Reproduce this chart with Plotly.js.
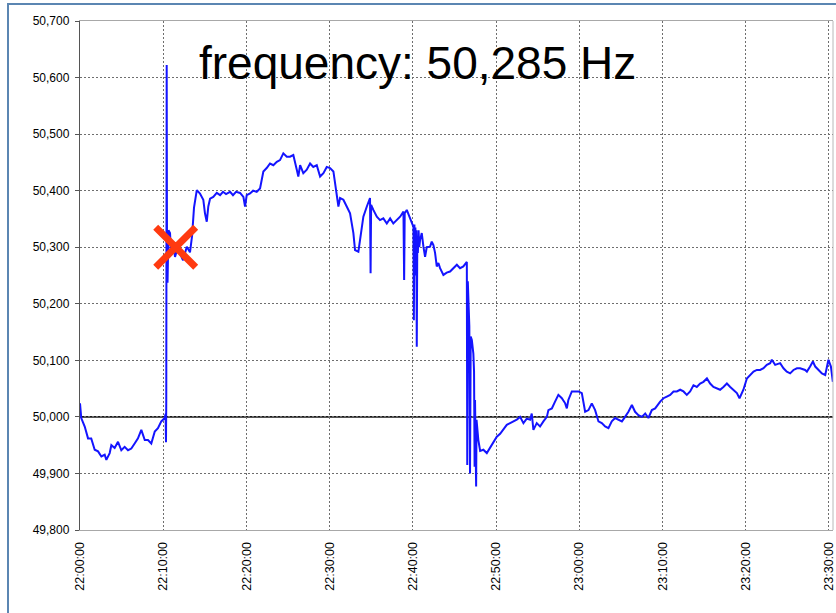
<!DOCTYPE html>
<html>
<head>
<meta charset="utf-8">
<script src="https://cdn.plot.ly/plotly-3.0.1.min.js"></script>
<style>
  html, body { margin: 0; padding: 0; background: #ffffff; }
  #wrap { position: relative; width: 836px; height: 613px; overflow: hidden; }
  #chart { position: absolute; left: 0; top: 0; width: 836px; height: 613px; }
  #frame { position: absolute; left: 7px; top: 3px; width: 829px; height: 608px;
           border-left: 2px solid #5b86b2; border-top: 2px solid #5b86b2;
           border-bottom: 1px solid #dde2e8; pointer-events: none; }
</style>
</head>
<body>
<div id="wrap">
  <div id="chart"></div>
  <div id="frame"></div>
</div>
<script>
// ---- data ----
const times = [
 "22:00:00","22:00:09","22:00:34","22:00:58","22:01:21","22:01:46","22:02:10","22:02:34","22:02:58","22:03:10",
 "22:03:34","22:03:46","22:04:10","22:04:34","22:04:58","22:05:22","22:05:46","22:06:10","22:06:34","22:06:58",
 "22:07:22","22:07:47","22:08:10","22:08:34","22:08:59","22:09:22","22:09:46","22:10:11","22:10:17","22:10:20",
 "22:10:22","22:10:25","22:10:27","22:10:31","22:10:35","22:10:38","22:10:49","22:10:56","22:11:11","22:11:25",
 "22:11:40","22:12:01","22:12:23","22:12:50","22:13:13","22:13:28","22:13:42","22:14:02","22:14:25","22:14:49",
 "22:15:01","22:15:14","22:15:25","22:15:38","22:16:01","22:16:26","22:16:50","22:17:11","22:17:33","22:18:02",
 "22:18:23","22:18:45","22:19:14","22:19:38","22:19:50","22:20:02","22:20:26","22:20:48","22:21:14","22:21:38",
 "22:22:02","22:22:26","22:22:50","22:23:14","22:23:39","22:24:02","22:24:26","22:24:51","22:25:14","22:25:38",
 "22:26:03","22:26:14","22:26:27","22:26:50","22:27:15","22:27:39","22:28:02","22:28:27","22:28:51","22:29:15",
 "22:29:39","22:30:03","22:30:27","22:30:51","22:31:03","22:31:15","22:31:39","22:32:03","22:32:27","22:32:51",
 "22:33:03","22:33:27","22:33:39","22:34:03","22:34:28","22:34:51","22:34:55","22:34:59","22:35:15","22:35:40",
 "22:36:03","22:36:27","22:36:52","22:37:16","22:37:39","22:38:04","22:38:28","22:38:52","22:38:57","22:39:01",
 "22:39:16","22:39:40","22:40:04","22:40:07","22:40:11","22:40:14","22:40:18","22:40:22","22:40:25","22:40:28",
 "22:40:32","22:40:36","22:40:41","22:40:46","22:40:52","22:41:04","22:41:16","22:41:28","22:41:40","22:42:04",
 "22:42:16","22:42:28","22:42:40","22:42:52","22:43:04","22:43:16","22:43:40","22:44:04","22:44:28","22:44:52",
 "22:45:17","22:45:40","22:46:04","22:46:29","22:46:32","22:46:36","22:46:40","22:46:47","22:46:52","22:46:57",
 "22:47:05","22:47:16","22:47:21","22:47:25","22:47:28","22:47:36","22:47:39","22:47:52","22:48:05","22:48:28",
 "22:48:53","22:49:17","22:49:40","22:50:05","22:50:29","22:50:53","22:51:17","22:51:41","22:52:05","22:52:29",
 "22:52:53","22:53:17","22:53:41","22:54:05","22:54:17","22:54:29","22:54:53","22:55:17","22:55:41","22:56:06",
 "22:56:17","22:56:42","22:57:05","22:57:29","22:57:54","22:58:18","22:58:30","22:58:41","22:59:06","22:59:30",
 "22:59:54","23:00:18","23:00:30","23:00:42","23:01:06","23:01:30","23:01:54","23:02:18","23:02:42","23:03:06",
 "23:03:30","23:03:54","23:04:18","23:04:42","23:05:07","23:05:30","23:05:54","23:06:19","23:06:42","23:07:06",
 "23:07:31","23:07:55","23:08:18","23:08:43","23:09:07","23:09:43","23:10:07","23:10:31","23:10:55","23:11:19",
 "23:11:43","23:12:07","23:12:31","23:12:55","23:13:19","23:13:43","23:14:07","23:14:31","23:14:55","23:15:20",
 "23:15:43","23:16:07","23:16:32","23:16:55","23:17:19","23:17:44","23:18:08","23:18:31","23:18:56","23:19:15",
 "23:19:43","23:20:08","23:20:32","23:20:56","23:21:20","23:21:44","23:22:08","23:22:32","23:22:56","23:23:08",
 "23:23:32","23:24:08","23:24:32","23:24:56","23:25:20","23:25:44","23:26:09","23:26:32","23:27:08","23:27:21",
 "23:27:44","23:28:04","23:28:21","23:28:44","23:29:09","23:29:33","23:29:56","23:30:14","23:30:28"
];
const freq = [
 50.024,49.998,49.983,49.962,49.962,49.942,49.939,49.930,49.933,49.924,
 49.936,49.950,49.945,49.956,49.941,49.947,49.941,49.944,49.953,49.962,
 49.977,49.959,49.959,49.953,49.974,49.980,49.992,49.998,50.005,49.955,
 50.030,50.622,50.330,50.237,50.330,50.330,50.325,50.290,50.310,50.283,
 50.295,50.289,50.277,50.301,50.291,50.320,50.370,50.401,50.395,50.384,
 50.360,50.345,50.372,50.386,50.389,50.396,50.392,50.398,50.394,50.398,
 50.392,50.398,50.396,50.389,50.372,50.392,50.395,50.400,50.398,50.404,
 50.434,50.440,50.448,50.445,50.451,50.454,50.466,50.460,50.460,50.463,
 50.437,50.425,50.445,50.431,50.437,50.448,50.442,50.445,50.425,50.431,
 50.442,50.440,50.434,50.389,50.372,50.387,50.384,50.372,50.360,50.325,
 50.295,50.292,50.310,50.354,50.372,50.387,50.254,50.375,50.366,50.354,
 50.348,50.351,50.342,50.351,50.342,50.348,50.354,50.363,50.242,50.360,
 50.366,50.351,50.336,50.171,50.340,50.280,50.335,50.250,50.330,50.124,
 50.320,50.290,50.330,50.300,50.313,50.325,50.301,50.283,50.300,50.301,
 50.310,50.304,50.290,50.266,50.272,50.263,50.251,50.255,50.257,50.263,
 50.269,50.263,50.266,50.274,49.915,50.240,50.183,50.160,49.900,50.142,
 50.136,50.112,50.080,49.912,50.030,49.877,49.995,49.959,49.940,49.942,
 49.936,49.945,49.956,49.965,49.970,49.977,49.986,49.989,49.992,49.995,
 50.000,49.989,49.997,49.995,50.006,49.977,49.989,49.983,49.992,50.000,
 50.012,50.015,50.027,50.039,50.033,50.024,50.015,50.030,50.045,50.045,
 50.045,50.042,50.024,50.009,50.012,50.024,50.012,49.992,49.989,49.983,
 49.980,49.992,49.998,49.995,49.992,50.000,50.009,50.021,50.009,50.003,
 50.000,50.006,49.998,50.012,50.015,50.027,50.033,50.036,50.039,50.045,
 50.045,50.048,50.045,50.039,50.045,50.056,50.053,50.059,50.062,50.068,
 50.059,50.053,50.050,50.048,50.053,50.059,50.053,50.048,50.042,50.033,
 50.048,50.068,50.074,50.080,50.083,50.083,50.086,50.092,50.095,50.101,
 50.092,50.095,50.086,50.080,50.077,50.083,50.086,50.086,50.083,50.080,
 50.089,50.098,50.089,50.083,50.077,50.074,50.101,50.089,50.062
];
const xTicks = ["22:00:00","22:10:00","22:20:00","22:30:00","22:40:00",
                "22:50:00","23:00:00","23:10:00","23:20:00","23:30:00"];
const nominalFreq = 50.000;
const markTime = ["22:11:30"];
const markFreq = [50.300];
const titleText = "frequency: 50,285 Hz";
const xRange = ["22:00:00", "23:30:29"];
const yRange = [49.8, 50.7];

// ---- build chart ----
const day = "2000-01-01 ";
const font = 'Arial, "Liberation Sans", sans-serif';

const traces = [
  {
    type: "scatter", mode: "lines",
    x: times.map(t => day + t), y: freq,
    line: { color: "#1414ff", width: 2 },
    hoverinfo: "skip", showlegend: false
  },
  {
    type: "scatter", mode: "markers",
    x: markTime.map(t => day + t), y: markFreq,
    marker: { symbol: "x-thin", size: 40, color: "#ff3a10",
              line: { color: "#ff3a10", width: 7 } },
    hoverinfo: "skip", showlegend: false
  }
];

const layout = {
  width: 836, height: 613,
  margin: { l: 80, r: 3, t: 21, b: 83 },
  paper_bgcolor: "#ffffff", plot_bgcolor: "#ffffff",
  separators: ",.",
  showlegend: false,
  font: { family: font, color: "#000000" },
  xaxis: {
    type: "date",
    range: xRange.map(t => day + t),
    tickmode: "array",
    tickvals: xTicks.map(t => day + t),
    ticktext: xTicks,
    tickangle: -90,
    ticklabeloverflow: "allow",
    tickfont: { family: font, size: 12.5, color: "#000000" },
    ticks: "", ticklabelstandoff: 6,
    showgrid: true, gridcolor: "#6e6e6e", gridwidth: 1, griddash: "2px,2px",
    showline: true, linecolor: "#a8a8a8", linewidth: 1, mirror: true,
    zeroline: false, fixedrange: true
  },
  yaxis: {
    range: yRange, dtick: 0.1, tick0: 49.8, tickformat: ".3f",
    tickfont: { family: font, size: 12, color: "#000000" },
    ticks: "outside", ticklen: 4, tickcolor: "#555555", tickwidth: 1,
    ticklabelstandoff: 3,
    showgrid: true, gridcolor: "#6e6e6e", gridwidth: 1, griddash: "2px,2px",
    showline: true, linecolor: "#555555", linewidth: 1.2, mirror: false,
    zeroline: false, fixedrange: true
  },
  shapes: [
    { type: "line", xref: "paper", yref: "y", x0: 0, x1: 1, y0: nominalFreq, y1: nominalFreq,
      line: { color: "#1a1a1a", width: 1.6 }, layer: "below" },
    { type: "line", xref: "paper", yref: "paper", x0: 1, x1: 1, y0: 0, y1: 1,
      line: { color: "#b8b8b8", width: 1 } }
  ],
  annotations: [
    { xref: "paper", yref: "paper", x: 0.448, y: 0.917, xanchor: "center", yanchor: "middle",
      text: titleText, showarrow: false,
      font: { family: font, size: 46, color: "#000000" } }
  ]
};

Plotly.newPlot("chart", traces, layout, { staticPlot: true, displayModeBar: false });
</script>
</body>
</html>
